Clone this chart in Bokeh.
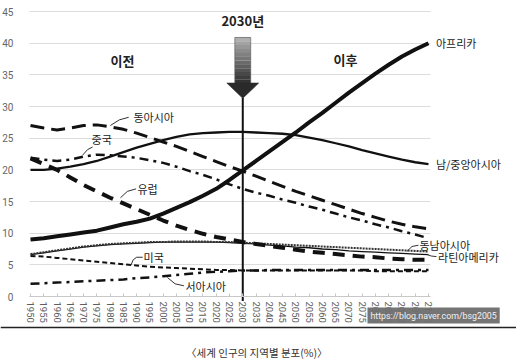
from bokeh.plotting import figure
from bokeh.models import Range1d, FixedTicker, Label, Span, ColumnDataSource
from bokeh.embed import file_html
from bokeh.resources import INLINE

# ---------------- data ----------------
years = list(range(1950, 2101, 5))

africa = [9.0, 9.2, 9.5, 9.8, 10.1, 10.4, 10.9, 11.4, 11.8, 12.3, 13.1, 14.0, 14.9, 15.9, 17.0,
          18.4, 19.9, 21.4, 22.9, 24.4, 25.9, 27.5, 29.0, 30.6, 32.2, 33.7, 35.2, 36.6, 37.9, 39.0, 40.0]
south_central_asia = [20.0, 20.0, 20.2, 20.5, 20.9, 21.4, 22.1, 22.8, 23.5, 24.1, 24.7, 25.2, 25.6, 25.8, 25.9,
                      26.0, 26.0, 25.9, 25.8, 25.7, 25.5, 25.1, 24.7, 24.2, 23.7, 23.1, 22.6, 22.1, 21.6, 21.2, 20.9]
east_asia = [27.0, 26.6, 26.3, 26.6, 27.0, 27.1, 26.8, 26.4, 25.8, 25.1, 24.4, 23.7, 22.9, 22.1, 21.3,
             20.5, 19.8, 19.0, 18.2, 17.4, 16.6, 15.9, 15.2, 14.5, 13.8, 13.1, 12.5, 11.9, 11.4, 11.0, 10.7]
china = [21.9, 21.6, 21.4, 21.6, 22.1, 22.4, 22.3, 22.1, 21.9, 21.5, 21.1, 20.5, 19.8, 19.2, 18.5,
         17.7, 17.0, 16.4, 15.9, 15.3, 14.8, 14.2, 13.7, 13.1, 12.5, 12.0, 11.4, 10.9, 10.3, 9.8, 9.2]
europe = [21.8, 20.9, 20.0, 18.8, 17.6, 16.6, 15.6, 14.7, 13.8, 12.9, 12.0, 11.2, 10.5, 9.9, 9.4,
          9.0, 8.6, 8.3, 8.0, 7.7, 7.4, 7.1, 6.9, 6.7, 6.5, 6.3, 6.2, 6.0, 5.9, 5.8, 5.8]
southeast_asia = [6.7, 7.0, 7.3, 7.6, 7.9, 8.1, 8.3, 8.4, 8.5, 8.6, 8.6, 8.7, 8.7, 8.7, 8.6,
                  8.6, 8.5, 8.4, 8.3, 8.2, 8.1, 8.0, 7.9, 7.8, 7.7, 7.6, 7.5, 7.4, 7.3, 7.2, 7.1]
latin_america = [6.6, 6.9, 7.2, 7.5, 7.8, 8.0, 8.2, 8.3, 8.4, 8.5, 8.6, 8.6, 8.6, 8.6, 8.6,
                 8.5, 8.4, 8.3, 8.1, 8.0, 7.8, 7.7, 7.5, 7.4, 7.2, 7.1, 7.0, 6.9, 6.8, 6.7, 6.6]
usa = [6.4, 6.3, 6.1, 5.9, 5.7, 5.5, 5.3, 5.1, 4.9, 4.7, 4.6, 4.5, 4.4, 4.3, 4.2,
       4.2, 4.1, 4.1, 4.1, 4.1, 4.1, 4.1, 4.1, 4.1, 4.1, 4.1, 4.0, 4.0, 4.0, 4.0, 4.0]
west_asia = [2.0, 2.1, 2.2, 2.3, 2.4, 2.5, 2.6, 2.7, 2.9, 3.0, 3.2, 3.4, 3.6, 3.8, 3.9,
             4.0, 4.1, 4.1, 4.2, 4.2, 4.2, 4.2, 4.2, 4.2, 4.2, 4.2, 4.2, 4.2, 4.2, 4.2, 4.2]

y_ticks = [0, 5, 10, 15, 20, 25, 30, 35, 40, 45]
x_ticks = years
marker_year = 2030
caption = "〈세계 인구의 지역별 분포(%)〉"
watermark = "https://blog.naver.com/bsg2005"

# ---------------- figure (frame fills whole canvas) ----------------
X0, X1 = 1938.69, 2133.17
Y0, Y1 = -10.26, 46.74
p = figure(width=516, height=361, output_backend="svg", toolbar_location=None,
           x_range=Range1d(X0, X1), y_range=Range1d(Y0, Y1),
           min_border=0, min_border_left=0, min_border_right=0,
           min_border_top=0, min_border_bottom=0)
p.outline_line_color = None
p.background_fill_color = "white"
p.border_fill_color = "white"

p.xgrid.visible = False
p.yaxis.ticker = FixedTicker(ticks=y_ticks)
p.ygrid.grid_line_color = "#dcdcdc"
p.ygrid.grid_line_width = 1
p.ygrid.cross_bounds = (1949.6, 2100.75)

p.yaxis.fixed_location = 1949.6
p.yaxis.axis_line_color = None
p.yaxis.major_tick_line_color = None
p.yaxis.minor_tick_line_color = None
p.yaxis.major_label_standoff = 10
p.yaxis.major_label_text_font = "Roboto"
p.yaxis.major_label_text_font_size = "10px"
p.yaxis.major_label_text_color = "#666666"

p.xaxis.ticker = FixedTicker(ticks=x_ticks)
p.xaxis.fixed_location = 0
p.xaxis.bounds = (1949.6, 2100.75)
p.xaxis.major_label_orientation = "vertical"
p.xaxis.axis_line_color = "#c8c8c8"
p.xaxis.major_tick_line_color = "#c8c8c8"
p.xaxis.major_tick_in = 3
p.xaxis.major_tick_out = 0
p.xaxis.minor_tick_line_color = None
p.xaxis.major_label_standoff = 5
p.xaxis.major_label_text_font = "Roboto"
p.xaxis.major_label_text_font_size = "9.5px"
p.xaxis.major_label_text_color = "#5e5e5e"

src = ColumnDataSource(dict(year=years, africa=africa, sca=south_central_asia, ea=east_asia,
                            cn=china, eu=europe, sea=southeast_asia, la=latin_america,
                            us=usa, wa=west_asia))
ink = "#111111"
p.line("year", "wa", source=src, line_color=ink, line_width=2.5, line_dash="9 5 3 5")
p.line("year", "us", source=src, line_color=ink, line_width=2, line_dash="5 3")
p.line("year", "la", source=src, line_color=ink, line_width=1.3)
p.line("year", "sea", source=src, line_color="#333333", line_width=2, line_dash="2 1")
p.line("year", "eu", source=src, line_color=ink, line_width=4, line_dash="12 8")
p.line("year", "cn", source=src, line_color=ink, line_width=2.5, line_dash="9 5 3 5")
p.line("year", "ea", source=src, line_color=ink, line_width=3, line_dash="14 7")
p.line("year", "sca", source=src, line_color=ink, line_width=2.3)
p.line("year", "africa", source=src, line_color=ink, line_width=4)

# vertical 2030 marker line
p.line([marker_year, marker_year], [-0.7, 31.4], line_color=ink, line_width=2)

# gradient arrow (shaft) + head
n = 12
top, bot = 40.9, 33.6
for i in range(n):
    y1 = top - (top - bot) * i / n
    y0 = top - (top - bot) * (i + 1) / n
    g = int(175 - (175 - 50) * i / (n - 1))
    p.quad(left=marker_year - 3.0, right=marker_year + 3.0, bottom=y0, top=y1 + 0.02,
           fill_color=(g, g, g), line_color=None)
p.quad(left=marker_year - 3.0, right=marker_year + 3.0, bottom=bot, top=top,
       fill_color=None, line_color="#555555", line_width=0.6)
p.patch([marker_year - 6.0, marker_year + 6.0, marker_year], [33.7, 33.7, 31.3],
        fill_color="#2a2a2a", line_color="#2a2a2a", line_width=0.6)

# leader lines
leaders = [
    ([1980.1, 1983.5, 1987.0], [27.0, 27.9, 28.3]),      # 동아시아
    ([1969.6, 1971.5, 1973.4], [22.3, 23.2, 23.6]),      # 중국
    ([1983.9, 1986.5, 1989.8], [15.6, 16.6, 17.0]),      # 유럽
    ([1987.8, 1988.7, 1990.0, 1992.3], [4.9, 5.8, 6.2, 6.2]),  # 미국
    ([2001.6, 2004.5, 2007.8], [3.0, 2.0, 1.7]),         # 서아시아
    ([2091.8, 2093.8, 2096.2], [7.1, 7.9, 8.1]),         # 동남아시아
    ([2099.6, 2101.0, 2103.0], [6.6, 6.4, 6.3]),         # 라틴아메리카
]
for xs, ys in leaders:
    p.line(xs, ys, line_color="#333333", line_width=1)

kfont = "Noto Sans CJK KR"
labels = [
    ("아프리카", 2102.8, 40.0), ("남/중앙아시아", 2102.8, 21.0),
    ("동남아시아", 2096.6, 8.1), ("라틴아메리카", 2103.6, 6.3),
    ("동아시아", 1988.8, 28.3), ("중국", 1973.0, 24.8), ("유럽", 1990.3, 17.05),
    ("미국", 1992.6, 6.2), ("서아시아", 2008.4, 1.74),
]
for t, x, y in labels:
    p.add_layout(Label(x=x, y=y, text=t, text_font=kfont, text_font_size="11px",
                       text_color="#222222", text_align="left", text_baseline="middle"))

for t, x, y in [("2030년", marker_year, 43.6), ("이전", 1984.7, 37.3), ("이후", 2068.7, 37.4)]:
    p.add_layout(Label(x=x, y=y, text=t, text_font=kfont, text_font_size="13px",
                       text_font_style="bold", text_color="#222222",
                       text_align="center", text_baseline="middle"))

# bottom rule, watermark and caption
p.add_layout(Span(location=-4.9, dimension="width", line_color="#222222", line_width=1.5))
p.add_layout(Label(x=2077.0, y=-3.0, text=watermark, text_font="Roboto", text_font_size="8.8px",
                   text_color="#f2f2f2", text_align="left", text_baseline="middle",
                   background_fill_color="#6e6e6e", background_fill_alpha=0.95, padding=3))
p.add_layout(Label(x=2035.3, y=-8.9, text=caption, text_font=kfont, text_font_size="10.5px",
                   text_color="#333333", text_align="center", text_baseline="middle"))

open("out.html", "w").write(file_html(p, INLINE))
